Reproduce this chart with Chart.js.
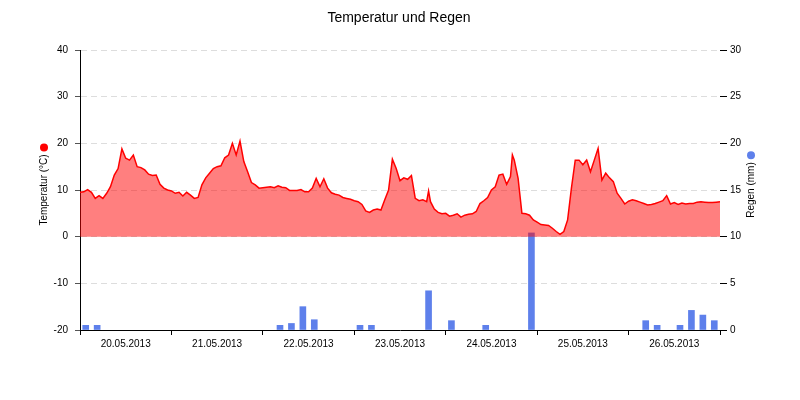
<!DOCTYPE html>
<html>
<head>
<meta charset="utf-8">
<script src="https://cdn.jsdelivr.net/npm/chart.js@4.4.0/dist/chart.umd.min.js"></script>
<style>
  body { margin: 0; background: #fff; }
</style>
</head>
<body>
<canvas id="wetter" width="800" height="400"></canvas>
<script>
  // Stunden ab 20.05.2013 00:00
  var tempHours = [
    0, 1, 2, 3, 4, 5, 6, 7, 8, 9, 10, 11, 12, 13, 14, 15, 16, 17, 18, 19, 20,
    21, 22, 23, 24, 25, 26, 27, 28, 29, 30, 31, 32, 33, 34, 35, 36, 37, 38, 39, 40,
    41, 42, 43, 44, 45, 46, 47, 48, 49, 50, 51, 52, 53, 54, 55, 56, 57, 58, 59, 60,
    61, 62, 63, 64, 65, 66, 67, 68, 69, 70, 71, 72, 73, 74, 75, 76, 77, 78, 79, 80,
    81, 82, 83, 84, 85, 86, 87, 88, 89, 90, 91, 91.5, 92, 93, 94, 95, 96, 97, 98, 99, 100,
    101, 102, 103, 104, 105, 106, 107, 108, 109, 110, 111, 112, 113, 113.5, 114, 115, 116, 117, 118, 119, 120,
    121, 122, 123, 124, 125, 126, 127, 128, 129, 130, 131, 132, 133, 134, 135, 136, 137, 138, 139, 140,
    141, 142, 143, 144, 145, 146, 147, 148, 149, 150, 151, 152, 153, 154, 155, 156, 157, 158, 159, 160,
    161, 162, 163, 164, 165, 166, 167, 168
  ];
  var tempValues = [
    9.5, 9.6, 10.1, 9.5, 8.2, 8.8, 8.2, 9.3, 10.7, 13.2, 14.6, 18.8, 16.8, 16.4, 17.5, 15.0, 14.8, 14.3, 13.4, 13.1, 13.2,
    11.2, 10.4, 10.0, 9.8, 9.3, 9.5, 8.7, 9.5, 8.9, 8.2, 8.4, 11.1, 12.6, 13.6, 14.6, 15.0, 15.2, 16.9, 17.5, 20.0,
    17.5, 20.5, 16.1, 13.9, 11.6, 11.1, 10.4, 10.5, 10.6, 10.7, 10.5, 10.9, 10.6, 10.5, 9.9, 9.9, 9.9, 10.1, 9.6, 9.6,
    10.4, 12.5, 10.7, 12.4, 10.4, 9.4, 9.1, 8.9, 8.4, 8.2, 8.0, 7.7, 7.5, 6.9, 5.5, 5.2, 5.7, 5.9, 5.7, 7.9,
    10.0, 16.6, 14.6, 12.0, 12.6, 12.3, 13.1, 8.2, 7.7, 7.9, 7.5, 9.8, 7.5, 5.9, 5.2, 4.9, 5.0, 4.4, 4.6, 4.9, 4.2,
    4.6, 4.8, 4.9, 5.4, 7.1, 7.7, 8.4, 10.0, 10.7, 13.2, 13.4, 11.2, 12.9, 17.5, 16.4, 12.5, 5.0, 4.9, 4.6, 3.6, 3.1,
    2.6, 2.5, 2.4, 1.8, 1.1, 0.5, 1.1, 3.6, 10.4, 16.4, 16.4, 15.4, 16.4, 13.9, 16.4, 18.9, 12.1, 13.6, 12.6, 11.8,
    9.3, 8.2, 7.0, 7.6, 7.9, 7.7, 7.4, 7.1, 6.8, 6.9, 7.1, 7.4, 7.7, 8.8, 7.0, 7.3, 6.9, 7.2, 7.0, 7.1,
    7.1, 7.4, 7.5, 7.4, 7.3, 7.3, 7.4, 7.5
  ];

  // Regen als 3-Stunden-Summen (Mitte des Intervalls)
  var rainHours = [1.5, 4.5, 52.5, 55.5, 58.5, 61.5, 73.5, 76.5, 91.5, 97.5, 106.5, 118.5, 148.5, 151.5, 157.5, 160.5, 163.5, 166.5];
  var rainValues = [0.5, 0.5, 0.5, 0.7, 2.5, 1.1, 0.5, 0.5, 4.2, 1.0, 0.5, 10.4, 1.0, 0.5, 0.5, 2.1, 1.6, 1.0];

  var dayLabels = ['20.05.2013', '21.05.2013', '22.05.2013', '23.05.2013', '24.05.2013', '25.05.2013', '26.05.2013'];

  var tempTicks = [-20, -10, 0, 10, 20, 30, 40];
  var rainTicks = [0, 5, 10, 15, 20, 25, 30];

  var FONT = "'Liberation Sans', Arial, sans-serif";
  Chart.defaults.font.family = FONT;
  Chart.defaults.font.size = 10;
  Chart.defaults.color = '#000';

  var tempData = tempHours.map(function(h, i) { return { x: h, y: tempValues[i] }; });
  var rainData = rainHours.map(function(h, i) { return { x: h, y: rainValues[i] }; });

  // Titel und Achsentitel mit Punkt
  var beschriftung = {
    id: 'beschriftung',
    afterDraw: function(chart) {
      var ctx = chart.ctx;
      var area = chart.chartArea;
      var midY = (area.top + area.bottom) / 2;

      ctx.save();
      ctx.fillStyle = '#000';
      ctx.font = '14px ' + FONT;
      ctx.textAlign = 'center';
      ctx.textBaseline = 'middle';
      ctx.fillText('Temperatur und Regen', 399, 18);

      ctx.font = '10px ' + FONT;
      drawAxisTitle(ctx, 'Temperatur (°C)', area.left - 36, midY, 'rgb(255,0,0)');
      drawAxisTitle(ctx, 'Regen (mm)', area.right + 31, midY, 'rgb(94,128,235)');
      ctx.restore();
    }
  };

  function drawAxisTitle(ctx, text, x, y, dotColor) {
    var w = ctx.measureText(text).width;
    ctx.save();
    ctx.translate(x, y);
    ctx.rotate(-Math.PI / 2);
    ctx.fillStyle = '#000';
    ctx.fillText(text, 0, 0);
    ctx.beginPath();
    ctx.arc(w / 2 + 7, 0, 4, 0, Math.PI * 2);
    ctx.fillStyle = dotColor;
    ctx.fill();
    ctx.restore();
  }

  new Chart(document.getElementById('wetter'), {
    data: {
      datasets: [
        {
          type: 'line',
          label: 'Temperatur',
          data: tempData,
          yAxisID: 'y',
          borderColor: 'rgb(255,0,0)',
          borderWidth: 1.5,
          backgroundColor: 'rgba(255,0,0,0.5)',
          fill: 'origin',
          pointRadius: 0,
          tension: 0,
          order: 0
        },
        {
          type: 'bar',
          label: 'Regen',
          data: rainData,
          yAxisID: 'y1',
          backgroundColor: 'rgb(94,128,235)',
          barThickness: 6,
          order: 1
        }
      ]
    },
    options: {
      responsive: false,
      animation: false,
      layout: { padding: { top: 50, left: 0, right: 0, bottom: 0 } },
      plugins: {
        legend: { display: false },
        title: { display: false },
        tooltip: { enabled: false }
      },
      scales: {
        x: {
          type: 'linear',
          min: 0,
          max: 168,
          offset: false,
          afterBuildTicks: function(scale) {
            var t = [];
            for (var h = 0; h <= 168; h += 12) t.push({ value: h });
            scale.ticks = t;
          },
          afterFit: function(scale) { scale.height = 70; },
          ticks: {
            autoSkip: false,
            maxRotation: 0,
            padding: 3,
            callback: function(v) {
              return v % 24 === 12 ? dayLabels[(v - 12) / 24] : '';
            }
          },
          grid: {
            offset: false,
            drawOnChartArea: false,
            tickLength: 5,
            color: function(c) {
              return c.tick && c.tick.value % 24 === 0 ? '#000' : 'rgba(0,0,0,0)';
            }
          },
          border: { color: '#000' }
        },
        y: {
          position: 'left',
          min: -20,
          max: 40,
          afterBuildTicks: function(scale) {
            scale.ticks = tempTicks.map(function(v) { return { value: v }; });
          },
          afterFit: function(scale) { scale.width = 80; },
          ticks: { padding: 7 },
          grid: {
            color: '#dddddd',
            tickColor: '#555',
            tickLength: 5,
            tickBorderDash: []
          },
          border: { color: '#000', dash: [6, 4] }
        },
        y1: {
          position: 'right',
          min: 0,
          max: 30,
          afterBuildTicks: function(scale) {
            scale.ticks = rainTicks.map(function(v) { return { value: v }; });
          },
          afterFit: function(scale) { scale.width = 80; },
          ticks: { padding: 3 },
          grid: {
            drawOnChartArea: false,
            tickColor: '#000',
            tickLength: 7
          },
          border: { display: false }
        }
      }
    },
    plugins: [beschriftung]
  });
</script>
</body>
</html>
